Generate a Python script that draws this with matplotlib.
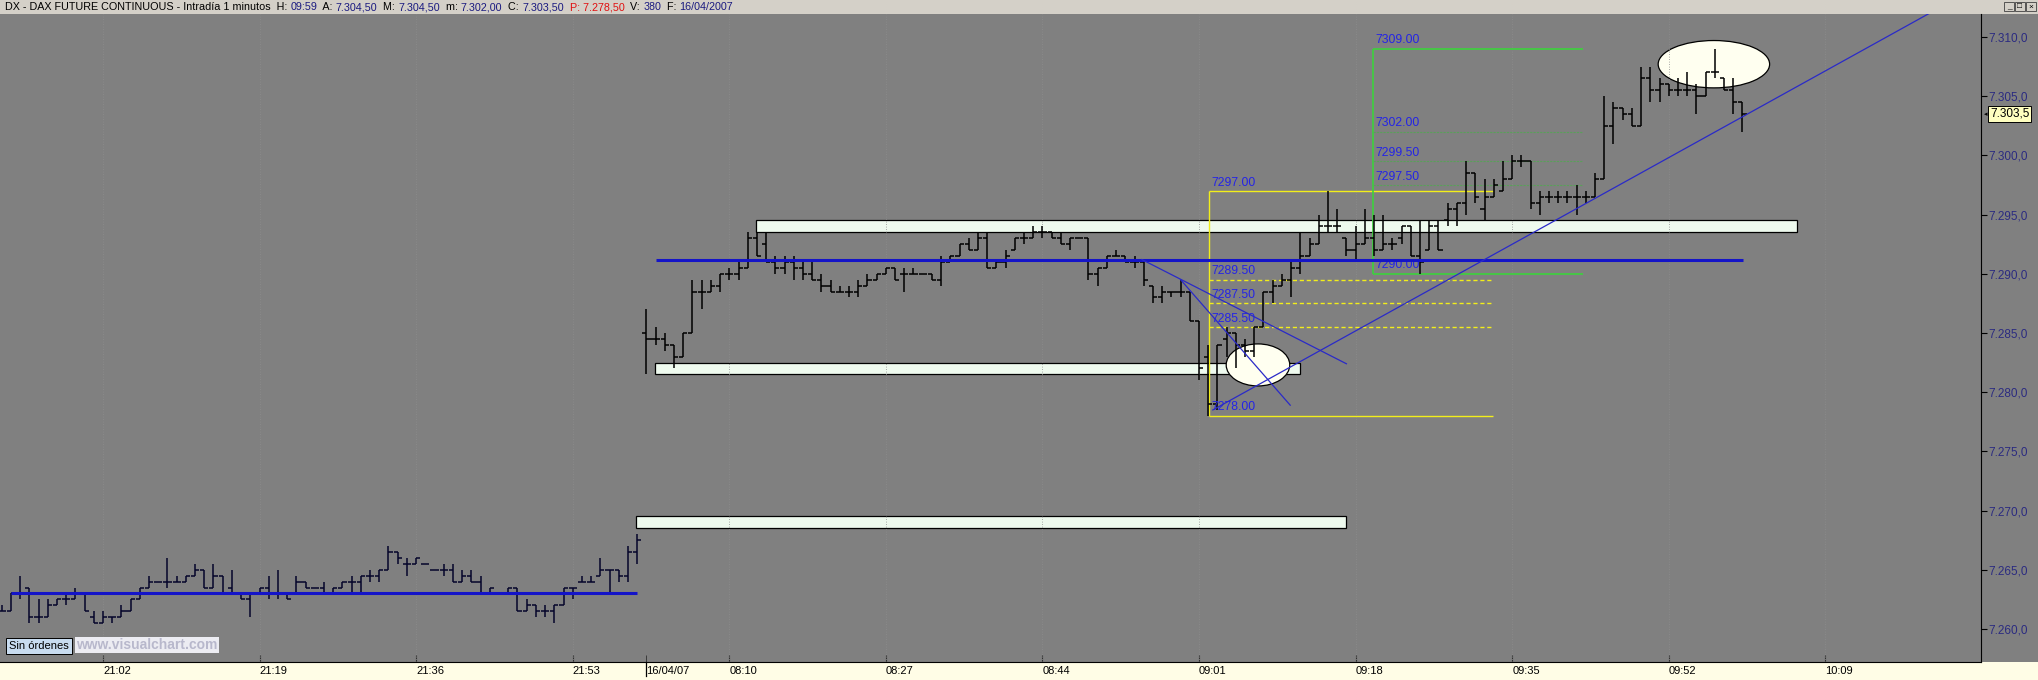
import numpy as np
import matplotlib
matplotlib.use('Agg')
import matplotlib.pyplot as plt
from matplotlib.patches import Rectangle, Ellipse
from matplotlib.ticker import FuncFormatter
from matplotlib import font_manager

W, H = 2038, 680
installed = {f.name for f in font_manager.fontManager.ttflist}
NARROW = 'Liberation Sans Narrow' if 'Liberation Sans Narrow' in installed else 'Liberation Sans'
plt.rcParams['font.family'] = ['Liberation Sans', 'DejaVu Sans']

# ---- 1-minute OHLC, bar index 0 = 21:02 of 13/04 ----
d1_start = -11
d1_open = [7261.5, 7261.5, 7263, 7263.5, 7261, 7261, 7262, 7262.5, 7262.5, 7263, 7261,
           7260.5, 7261, 7261, 7261.5, 7262.5, 7263.5, 7264, 7264, 7264, 7264, 7264.5,
           7265, 7263.5, 7264.5, 7263.5, 7263, 7262.5, 7263, 7263.5, 7263, 7263, 7263,
           7264, 7263.5, 7263.5, 7263, 7263.5, 7264, 7264, 7264.5, 7264.5, 7265, 7266.5,
           7265.5, 7265.5, 7265.5, 7265, 7265, 7265, 7264, 7264.5, 7264, 7263, 7263,
           7263, 7263.5, 7261.5, 7262, 7261.5, 7261.5, 7262, 7263.5, 7264, 7264, 7264.5,
           7265, 7265, 7264.5, 7266.5]
d1_high = [7262, 7263, 7264.5, 7263.5, 7262.5, 7262.5, 7262.5, 7263, 7263.5, 7263, 7261.5,
           7261.5, 7261, 7262, 7262.5, 7263.5, 7264.5, 7264, 7266, 7264.5, 7264.5, 7265.5,
           7265, 7265.5, 7264.5, 7265, 7263, 7263, 7263.5, 7264.5, 7265, 7263, 7264.5,
           7264, 7263.5, 7264, 7263.5, 7264, 7264.5, 7264.5, 7265, 7265, 7267, 7266.5,
           7266, 7266, 7265.5, 7265, 7265.5, 7265.5, 7265, 7265, 7264.5, 7263.5, 7263,
           7263.5, 7263.5, 7262.5, 7262, 7262, 7262, 7263.5, 7263.5, 7264.5, 7264.5, 7266,
           7265, 7265, 7267, 7268]
d1_low = [7261.5, 7261.5, 7262.5, 7260.5, 7260.5, 7261, 7262, 7262, 7262.5, 7261.5, 7260.5,
          7260.5, 7260.5, 7261, 7261.5, 7262.5, 7263.5, 7264, 7263.5, 7264, 7264, 7264.5,
          7263.5, 7263.5, 7263, 7263, 7262.5, 7261, 7263, 7262.5, 7262.5, 7262.5, 7263,
          7263.5, 7263.5, 7263, 7263, 7263.5, 7263, 7263, 7264, 7264, 7265, 7265.5,
          7264.5, 7265.5, 7265.5, 7265, 7264.5, 7264, 7264, 7264, 7263, 7263, 7263,
          7263, 7261.5, 7261.5, 7261, 7261, 7260.5, 7262, 7262.5, 7264, 7264, 7264.5,
          7263, 7264, 7264, 7265.5]
d1_close = [7261.5, 7263, 7263, 7261, 7261, 7262, 7262.5, 7262.5, 7263, 7261.5, 7260.5,
            7261, 7261, 7261.5, 7262.5, 7263.5, 7264, 7264, 7264, 7264, 7264.5, 7265,
            7263.5, 7264.5, 7263, 7263, 7262.5, 7263, 7263.5, 7263, 7263, 7262.5, 7264,
            7263.5, 7263.5, 7263, 7263.5, 7264, 7264, 7264.5, 7264.5, 7265, 7266.5, 7266,
            7265.5, 7266, 7265.5, 7265, 7265, 7264, 7264.5, 7264, 7263, 7263.5, 7263,
            7263.5, 7261.5, 7262, 7261.5, 7261.5, 7262, 7263.5, 7263.5, 7264, 7264, 7265,
            7265, 7264.5, 7266.5, 7267.5]

# ---- 16/04/07, from 08:01 ----
d2_start = 59
d2_open = [7285, 7284.5, 7284.5, 7284, 7283, 7285, 7288.5, 7288.5, 7289, 7290, 7290,
           7290.5, 7293, 7292.5, 7291, 7290.5, 7291, 7290.5, 7290, 7289.5, 7289, 7288.5,
           7288.5, 7288.5, 7289, 7289.5, 7290, 7290.5, 7290, 7290, 7290, 7290, 7289.5,
           7291, 7291.5, 7292.5, 7292, 7293, 7290.5, 7291, 7292, 7293, 7293, 7293.5,
           7293.5, 7293, 7292.5, 7293, 7293, 7290, 7290.5, 7291.5, 7291.5, 7291, 7291,
           7289, 7288, 7288.5, 7288.5, 7288.5, 7286, 7283, 7279, 7284.5, 7285, 7284,
           7283.5, 7285.5, 7288.5, 7289, 7289.5, 7290.5, 7291.5, 7292.5, 7294, 7294,
           7293, 7292, 7292.5, 7293, 7292, 7292.5, 7293, 7294, 7291.5, 7292, 7294,
           7294.5, 7295.5, 7296, 7298.5, 7295.5, 7296.5, 7297, 7298, 7299.5, 7299.5,
           7296, 7296.5, 7296.5, 7296.5, 7296.5, 7296.5, 7296.5, 7298, 7302.5, 7304,
           7303.5, 7302.5, 7306.5, 7305.5, 7306, 7305.5, 7305.5, 7305.5, 7305, 7307,
           7306.5, 7305.5, 7304.5]
d2_high = [7287, 7285.5, 7285, 7284, 7285, 7289.5, 7289.5, 7289.5, 7290, 7290.5, 7291,
           7293.5, 7293.5, 7293.5, 7291.5, 7291.5, 7291.5, 7291, 7291, 7290, 7289.5, 7289,
           7289, 7289.5, 7290, 7290, 7290.5, 7290.5, 7290.5, 7290.5, 7290, 7290, 7291.5,
           7291.5, 7292.5, 7293, 7293.5, 7293.5, 7291, 7292, 7293, 7293.5, 7294, 7294,
           7293.5, 7293.5, 7293, 7293, 7293, 7290.5, 7291.5, 7292, 7291.5, 7291.5, 7291,
           7289, 7289, 7288.5, 7289.5, 7288.5, 7286, 7284, 7284, 7285.5, 7285, 7284.5,
           7285.5, 7288.5, 7289.5, 7290, 7291, 7293.5, 7293, 7295, 7297, 7295.5, 7293,
           7294, 7295.5, 7295, 7295, 7293, 7294, 7294, 7294.5, 7294.5, 7294.5, 7296,
           7296, 7299.5, 7298.5, 7298, 7298, 7299.5, 7300, 7300, 7299.5, 7297, 7297,
           7297, 7297, 7297.5, 7297, 7298.5, 7305, 7304.5, 7304, 7304, 7307.5, 7307.5,
           7306.5, 7306, 7306.5, 7307, 7306, 7307, 7309, 7306.5, 7306.5, 7304.5]
d2_low = [7281.5, 7284, 7283.5, 7282, 7283, 7285, 7287, 7288.5, 7288.5, 7289.5, 7289.5,
          7290.5, 7291.5, 7291, 7290, 7290, 7289.5, 7289.5, 7289.5, 7288.5, 7288.5,
          7288.5, 7288, 7288, 7289, 7289.5, 7290, 7289.5, 7288.5, 7290, 7290, 7289.5,
          7289, 7291, 7291.5, 7292, 7292, 7290.5, 7290.5, 7290.5, 7292, 7292.5, 7293,
          7293, 7293, 7292.5, 7292, 7293, 7289.5, 7289, 7290.5, 7291.5, 7291, 7290.5,
          7289, 7287.5, 7287.5, 7288, 7288, 7286, 7281, 7278, 7278.5, 7283, 7282, 7283,
          7283, 7285.5, 7287.5, 7289, 7288, 7290, 7291.5, 7292.5, 7293.5, 7293.5, 7291.5,
          7291, 7292.5, 7291.5, 7292, 7292, 7292.5, 7291.5, 7290, 7292, 7292, 7294,
          7294, 7295, 7296, 7294.5, 7296.5, 7297, 7298, 7299, 7295.5, 7295, 7296, 7296,
          7296, 7295, 7296, 7296.5, 7298, 7301, 7303, 7302.5, 7302.5, 7304.5, 7304.5,
          7305, 7305, 7305, 7303.5, 7305, 7306.5, 7305.5, 7303.5, 7302]
d2_close = [7284.5, 7284.5, 7284, 7283, 7285, 7288.5, 7288.5, 7289, 7290, 7290, 7290.5,
            7293, 7291.5, 7291, 7290.5, 7291, 7290.5, 7290, 7289.5, 7289, 7288.5, 7288.5,
            7288.5, 7289, 7289.5, 7290, 7290.5, 7289.5, 7290, 7290, 7290, 7289.5, 7291,
            7291.5, 7292.5, 7292, 7293, 7290.5, 7291, 7291.5, 7293, 7293, 7293.5, 7293.5,
            7293, 7292.5, 7293, 7293, 7290, 7290.5, 7291.5, 7291.5, 7291, 7291, 7289.5,
            7288, 7288.5, 7288.5, 7288.5, 7286, 7282, 7279, 7284, 7285, 7284, 7283.5,
            7285.5, 7288.5, 7289, 7289.5, 7290.5, 7291.5, 7292.5, 7294, 7294, 7294, 7292,
            7292.5, 7293, 7292, 7292.5, 7292.5, 7294, 7291.5, 7291, 7294, 7292, 7295.5,
            7296, 7298.5, 7296.5, 7296.5, 7297.5, 7298, 7299.5, 7299.5, 7296, 7296.5,
            7296.5, 7296.5, 7296.5, 7296.5, 7296.5, 7298, 7302.5, 7304, 7303.5, 7302.5,
            7306.5, 7305.5, 7306, 7305.5, 7305.5, 7305.5, 7305, 7307, 7307, 7305.5,
            7304.5, 7303.5]

tick_pos = [0, 17, 34, 51, 68, 85, 102, 119, 136, 153, 170, 187]
tick_lab = ['21:02', '21:19', '21:36', '21:53', '08:10', '08:27', '08:44',
            '09:01', '09:18', '09:35', '09:52', '10:09']
day_pos, day_lab = 59, '16/04/07'

# drawn objects (x in bars, y in price)
support_lines = [(-10, 58, 7263.0), (60, 178.1, 7291.2)]
zones = [(70.9, 183.9, 7293.5, 7294.5), (59.9, 130, 7281.5, 7282.5), (57.9, 135, 7268.5, 7269.5)]
trend_lines = [((120.5, 7278.5), (199.0, 7312.3)), ((112.8, 7291.2), (135.0, 7282.4)),
               ((117.0, 7289.5), (128.9, 7278.9))]
marks = [(125.4, 7282.3, 6.9, 3.55), (174.9, 7307.7, 12.1, 4.0)]
fib_y_x = (120.1, 150.9)
fib_y_levels = [7297.0, 7289.5, 7287.5, 7285.5, 7278.0]
fib_g_x = (137.9, 160.7)
fib_g_levels = [7309.0, 7302.0, 7299.5, 7297.5, 7290.0]

GRAY = '#808080'
BLUE = '#1414c8'
XMIN, XMAX = -11.18, 203.9
YMIN, YMAX = 7257.21, 7311.94
fig = plt.figure(figsize=(W / 100, H / 100), dpi=100, facecolor=GRAY)

# window frame: title strip and time band
bg = fig.add_axes([0, 0, 1, 1])
bg.set_xlim(0, W)
bg.set_ylim(H, 0)
bg.axis('off')
bg.add_patch(Rectangle((0, 0), W, 14, fc='#d4d0c8', ec='none'))
bg.add_patch(Rectangle((0, 662), W, 18, fc='#fffde6', ec='none'))
for bx, g in zip([2004, 2015, 2026], ['_', '□', '×']):
    bg.add_patch(Rectangle((bx, 2), 10, 9, fc='#d4d0c8', ec='#404040', lw=0.6))
    bg.text(bx + 5, 7, g, ha='center', va='center', fontsize=6, color='black')

hdr = [('DX - DAX FUTURE CONTINUOUS - Intradía 1 minutos  H: ', 'black'), ('09:59', '#1a1a80'),
       ('  A: ', 'black'), ('7.304,50', '#1a1a80'), ('  M: ', 'black'), ('7.304,50', '#1a1a80'),
       ('  m: ', 'black'), ('7.302,00', '#1a1a80'), ('  C: ', 'black'), ('7.303,50', '#1a1a80'),
       ('  P: 7.278,50', '#e01010'), ('  V: ', 'black'), ('380', '#1a1a80'),
       ('  F: ', 'black'), ('16/04/2007', '#1a1a80')]
t = bg.text(5, 12, hdr[0][0], ha='left', va='bottom', fontsize=7.75, color=hdr[0][1], family=NARROW)
for s, c in hdr[1:]:
    t = bg.annotate(s, xy=(1, 0), xycoords=t, ha='left', va='bottom', fontsize=7.75,
                    color=c, family=NARROW)

ax = fig.add_axes([0, 18 / H, 1981 / W, 648 / H])
ax.set_zorder(2)
ax.set_facecolor(GRAY)
ax.set_xlim(XMIN, XMAX)
ax.set_ylim(YMIN, YMAX)

for x0, x1, y0, y1 in zones:
    ax.add_patch(Rectangle((x0, y0), x1 - x0, y1 - y0, fc='#eefaee', ec='black', lw=0.9, zorder=2))
for xc, yc, w, h in marks:
    ax.add_patch(Ellipse((xc, yc), w, h, fc='#fffff0', ec='black', lw=0.9, zorder=2))
ax.vlines(tick_pos, YMIN, YMAX, colors='#8e8e8e', linestyles=(0, (1, 2)), lw=0.6, zorder=3)

# fibonacci drawings
ax.vlines(fib_y_x[0], fib_y_levels[-1], fib_y_levels[0], colors='#f2ee1a', lw=1.0, zorder=3)
for k, lv in enumerate(fib_y_levels):
    ls = '-' if k in (0, len(fib_y_levels) - 1) else (0, (3, 2))
    ax.hlines(lv, *fib_y_x, colors='#f2ee1a', linestyles=ls, lw=1.0, zorder=3)
    ax.text(fib_y_x[0] + 0.3, lv + 0.2, f'{lv:.2f}', color='#2424e6', fontsize=8.8,
            ha='left', va='bottom', zorder=6)
ax.vlines(fib_g_x[0], fib_g_levels[-1], fib_g_levels[0], colors='#3cd23c', lw=1.2, zorder=3)
for k, lv in enumerate(fib_g_levels):
    solid = k in (0, len(fib_g_levels) - 1)
    ax.hlines(lv, *fib_g_x, colors='#3cd23c' if solid else '#5aa05a',
              linestyles='-' if solid else (0, (2, 1)), lw=1.2 if solid else 0.8, zorder=3)
    ax.text(fib_g_x[0] + 0.3, lv + 0.2, f'{lv:.2f}', color='#2424e6', fontsize=8.8,
            ha='left', va='bottom', zorder=6)


def draw_bars(start, o, h, l, c, color):
    x = np.arange(start, start + len(o))
    ax.vlines(x, l, h, colors=color, lw=1.1, zorder=5)
    ax.hlines(o, x - 0.45, x, colors=color, lw=1.1, zorder=5)
    ax.hlines(c, x, x + 0.45, colors=color, lw=1.1, zorder=5)


draw_bars(d1_start, d1_open, d1_high, d1_low, d1_close, '#05052a')
draw_bars(d2_start, d2_open, d2_high, d2_low, d2_close, 'black')

for x0, x1, y in support_lines:
    ax.hlines(y, x0, x1, colors=BLUE, lw=2.2, zorder=6)
for (xa, ya), (xb, yb) in trend_lines:
    ax.plot([xa, xb], [ya, yb], color='#2a2ac8', lw=0.9, zorder=6)


def es_num(v):
    return f'{v:,.1f}'.replace(',', ' ').replace('.', ',').replace(' ', '.')


# axes styling
for s in ('left', 'top'):
    ax.spines[s].set_visible(False)
ax.spines['right'].set_color('black')
ax.spines['bottom'].set_color('black')
ax.yaxis.tick_right()
ax.set_yticks(np.arange(7260, 7311, 5))
ax.yaxis.set_major_formatter(FuncFormatter(lambda v, _: es_num(v)))
ax.tick_params(axis='y', direction='out', length=4, color='black', labelcolor='#2b2b80',
               labelsize=8.5, pad=1)
ax.set_xticks(tick_pos)
ax.set_xticklabels(tick_lab)
ax.set_xticks([day_pos], minor=True)
ax.set_xticklabels([day_lab], minor=True)
ax.tick_params(axis='x', which='both', direction='in', length=5, color='#303030', labelsize=8, pad=3)
for lab in ax.get_xticklabels() + ax.get_xticklabels(minor=True):
    lab.set_ha('left')
    lab.set_family(NARROW)
# date separator mark running down into the time band
ax.plot([day_pos, day_pos], [0, -0.022], transform=ax.get_xaxis_transform(),
        color='black', lw=0.9, clip_on=False)

last_close = d2_close[-1]
ax.annotate(es_num(last_close), xy=(1, last_close), xycoords=('axes fraction', 'data'),
            xytext=(9, 0), textcoords='offset pixels', ha='left', va='center', fontsize=8.5,
            color='black', bbox=dict(boxstyle='square,pad=0.15', fc='#ffffc0', ec='black', lw=0.7),
            annotation_clip=False)
ax.annotate('◂', xy=(1, last_close), xycoords=('axes fraction', 'data'), xytext=(3, 0),
            textcoords='offset pixels', ha='left', va='center', fontsize=5, color='black',
            family='DejaVu Sans', annotation_clip=False)

ax.text(9 / 1981, 16 / 648, 'Sin órdenes', transform=ax.transAxes, ha='left', va='center',
        fontsize=8, family=NARROW, color='black', zorder=7,
        bbox=dict(boxstyle='square,pad=0.25', fc='#c8dcf0', ec='black', lw=0.7))
ax.text(76 / 1981, 17 / 648, 'www.visualchart.com', transform=ax.transAxes, ha='left',
        va='center', fontsize=10, fontweight='bold', color='#b8b8cc', zorder=7,
        bbox=dict(boxstyle='square,pad=0.1', fc='#ececf2', ec='none'))

fig.savefig('out.png', dpi=100, facecolor=GRAY)
